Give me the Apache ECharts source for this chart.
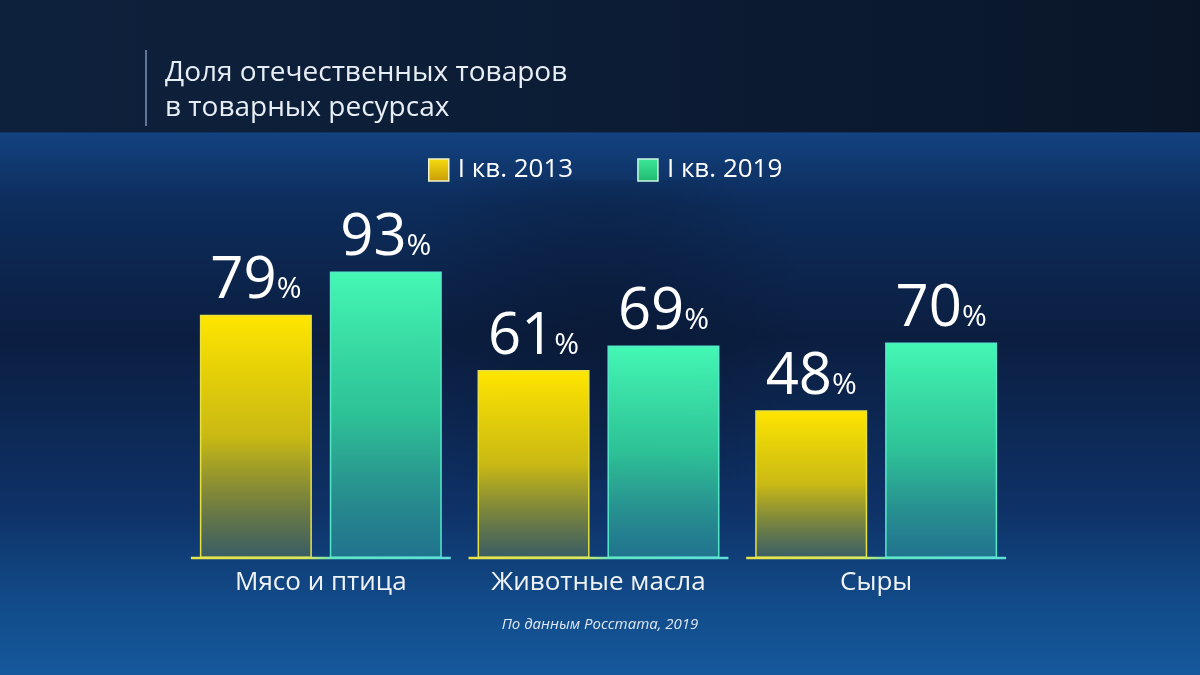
<!DOCTYPE html>
<html>
<head>
<meta charset="utf-8">
<script src="https://cdn.jsdelivr.net/npm/echarts@6/dist/echarts.min.js"></script>
<style>
html,body{margin:0;padding:0;background:#0b1d3d;}
#main{width:1200px;height:675px;}
</style>
</head>
<body>
<div id="main"></div>
<script>
const titleLines = ['Доля отечественных товаров', 'в товарных ресурсах'];
const categories = ['Мясо и птица', 'Животные масла', 'Сыры'];
const seriesNames = ['I кв. 2013', 'I кв. 2019'];
const values2013 = [79, 61, 48];
const values2019 = [93, 69, 70];
const sourceText = 'По данным Росстата, 2019';

const FONT = '"Open Sans", "Noto Sans", sans-serif';
const chart = echarts.init(document.getElementById('main'), null, {renderer: 'canvas'});

const labelRich = {
  v: {fontSize: 58, color: '#ffffff', fontFamily: FONT, fontWeight: 400},
  p: {fontSize: 30, color: '#ffffff', fontFamily: FONT, padding: [16, 0, 0, 0]}
};
function valueLabel() {
  return {
    show: true, position: 'top', distance: 4,
    formatter: p => '{v|' + p.value + '}{p|%}',
    rich: labelRich
  };
}

const option = {
  backgroundColor: {
    type: 'linear', x: 0, y: 0, x2: 0, y2: 1,
    colorStops: [
      {offset: 0, color: '#0b1b33'},
      {offset: 0.195, color: '#0b1a30'},
      {offset: 0.197, color: '#134280'},
      {offset: 0.3, color: '#0d2d5c'},
      {offset: 0.5, color: '#0b1e40'},
      {offset: 0.75, color: '#0e3166'},
      {offset: 0.9, color: '#124c8a'},
      {offset: 1, color: '#15589c'}
    ]
  },
  graphic: [
    {type: 'rect', z: -10, shape: {x: 0, y: 0, width: 1200, height: 132},
     style: {fill: {type: 'linear', x: 0, y: 0, x2: 1, y2: 0,
       colorStops: [{offset: 0, color: '#0e213c'}, {offset: 0.5, color: '#0c1c35'}, {offset: 1, color: '#0a1628'}]}}},
    {type: 'rect', z: -9, shape: {x: 0, y: 180, width: 1200, height: 300},
     style: {fill: {type: 'radial', x: 0.5, y: 0.5, r: 0.7,
       colorStops: [{offset: 0, color: 'rgba(9,22,48,0.55)'}, {offset: 1, color: 'rgba(9,22,48,0)'}]}}},
    {type: 'line', shape: {x1: 146, y1: 50, x2: 146, y2: 126},
     style: {stroke: '#5d7896', lineWidth: 2}},
    {type: 'text', left: 165, top: 56,
     style: {text: titleLines.join('\n'), fill: '#e8eef5', fontSize: 28, lineHeight: 35, fontFamily: FONT}},
    {type: 'text', left: 'center', top: 617,
     style: {text: sourceText, fill: '#dfe8f2', fontSize: 15, fontStyle: 'italic', fontFamily: FONT}}
  ],
  legend: {
    data: [
      {name: seriesNames[0], itemStyle: {color: {type: 'linear', x: 0, y: 0, x2: 0, y2: 1, colorStops: [{offset: 0, color: '#f5dc10'}, {offset: 1, color: '#c89c08'}]}, borderColor: '#f2f2c8', borderWidth: 1.5}},
      {name: seriesNames[1], itemStyle: {color: {type: 'linear', x: 0, y: 0, x2: 0, y2: 1, colorStops: [{offset: 0, color: '#3ee89a'}, {offset: 1, color: '#1fb86e'}]}, borderColor: '#d0f5e6', borderWidth: 1.5}}
    ],
    left: 423, top: 152,
    icon: 'rect', itemWidth: 20, itemHeight: 22, itemGap: 64,
    textStyle: {color: '#ffffff', fontSize: 26, fontFamily: FONT, padding: [0, 0, 0, 4]}
  },
  grid: {left: 182, right: 185, top: 250, bottom: 117},
  xAxis: {
    type: 'category', data: categories,
    axisLine: {show: false}, axisTick: {show: false},
    axisLabel: {color: '#f0f4f8', fontSize: 26, fontFamily: FONT, margin: 12, interval: 0, hideOverlap: false}
  },
  yAxis: {type: 'value', min: 0, max: 100, show: false, splitLine: {show: false}},
  series: [
    {
      name: seriesNames[0], type: 'bar', data: values2013, barWidth: 112, barGap: '16%',
      itemStyle: {
        color: {type: 'linear', x: 0, y: 0, x2: 0, y2: 1,
          colorStops: [{offset: 0, color: '#ffe600'}, {offset: 0.5, color: 'rgba(228,205,10,0.88)'}, {offset: 1, color: 'rgba(200,200,40,0.22)'}]},
        borderColor: '#e6e040', borderWidth: 1.5
      },
      label: valueLabel()
    },
    {
      name: seriesNames[1], type: 'bar', data: values2019, barWidth: 112,
      itemStyle: {
        color: {type: 'linear', x: 0, y: 0, x2: 0, y2: 1,
          colorStops: [{offset: 0, color: '#44f8b4'}, {offset: 0.5, color: 'rgba(50,215,160,0.88)'}, {offset: 1, color: 'rgba(60,200,180,0.38)'}]},
        borderColor: '#55e8c8', borderWidth: 1.5
      },
      label: valueLabel()
    },
    {
      name: 'baseline', type: 'custom', silent: true, z: 5,
      data: categories.map((c, i) => [i, 0]),
      renderItem: function (params, api) {
        const pt = api.coord([api.value(0), 0]);
        const bw = api.size([1, 0])[0];
        const half = bw * 0.468;
        return {
          type: 'line',
          shape: {x1: pt[0] - half, y1: pt[1], x2: pt[0] + half, y2: pt[1]},
          style: {
            lineWidth: 2.5,
            stroke: {type: 'linear', x: 0, y: 0, x2: 1, y2: 0,
              colorStops: [{offset: 0, color: '#e8e44a'}, {offset: 0.45, color: '#d8e860'}, {offset: 0.55, color: '#5ee8c8'}, {offset: 1, color: '#5ee0d8'}]}
          }
        };
      }
    }
  ]
};
chart.setOption(option);
</script>
</body>
</html>
